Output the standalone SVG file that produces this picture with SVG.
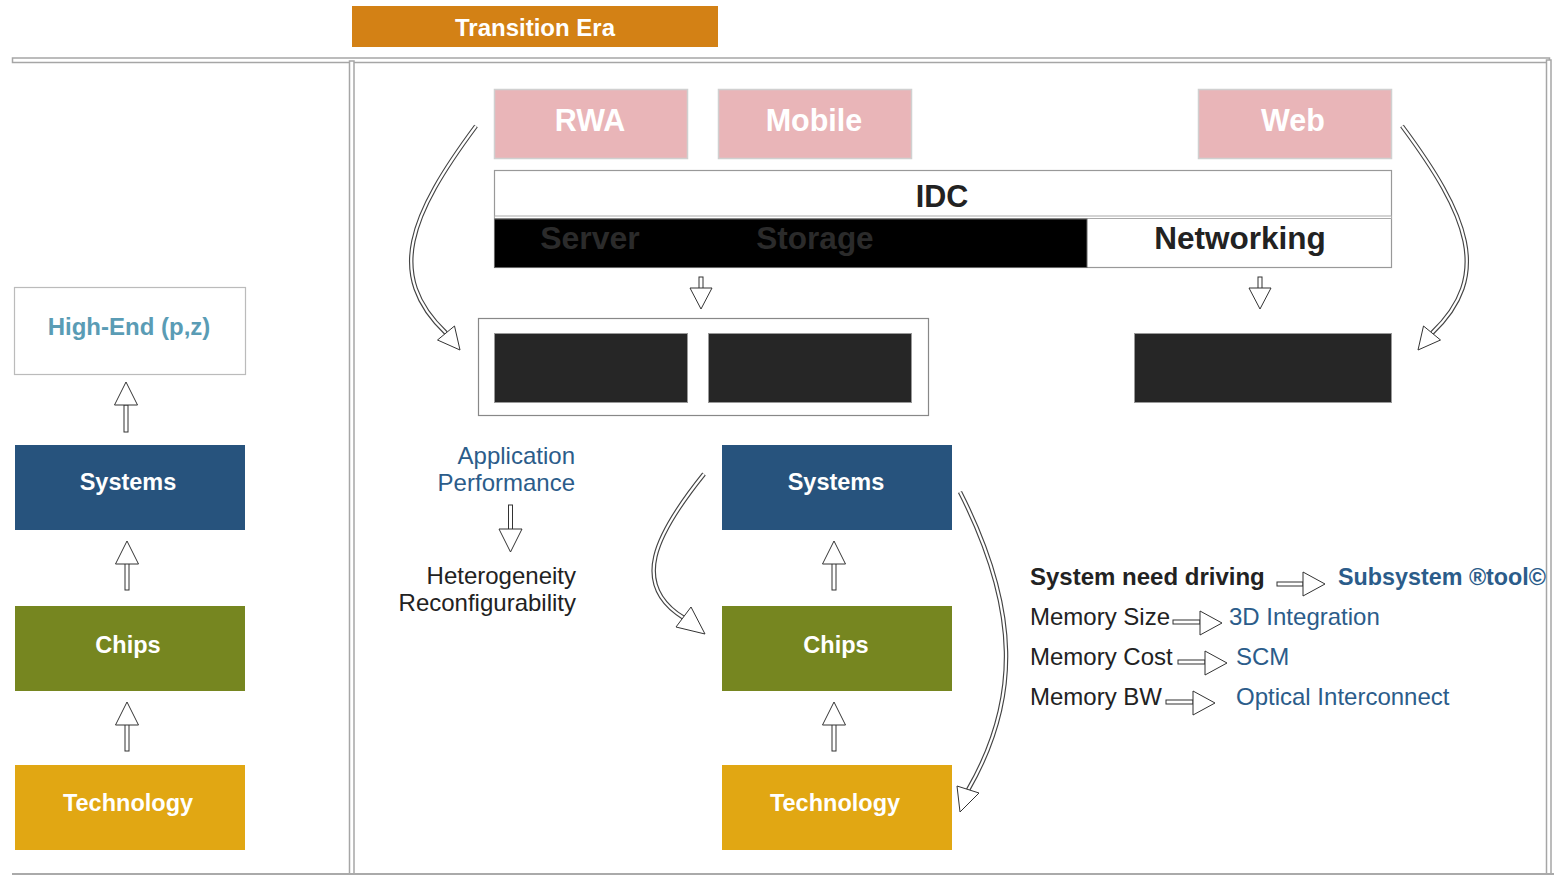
<svg xmlns="http://www.w3.org/2000/svg" width="1554" height="875" viewBox="0 0 1554 875">
<style>
text{font-family:"Liberation Sans",Arial,sans-serif}
.b{font-weight:bold}
.w{fill:#fff}
.mid{text-anchor:middle}
.end{text-anchor:end}
.frame{fill:#fff;stroke:#a6a6a6;stroke-width:1.5}
.pink{fill:#E9B5B8;stroke:#d0d0d0;stroke-width:1.5}
.dark{fill:#262626;stroke:#999;stroke-width:1}
.ar{fill:#fff;stroke:#333;stroke-width:1}
.c1{fill:none;stroke:#444;stroke-width:4.5}
.c2{fill:none;stroke:#fff;stroke-width:2.2}
.blue{fill:#2B5C8A}
.dk{fill:#222}
</style>
<rect width="1554" height="875" fill="#fff"/>
<g id="frame">
<rect class="frame" x="12.5" y="58" width="1537" height="4.5"/>
<rect class="frame" x="349.5" y="61" width="4.5" height="820"/>
<rect class="frame" x="1546.5" y="60" width="4.5" height="820"/>
<line x1="12" y1="874" x2="1554" y2="874" stroke="#aaa" stroke-width="2"/>
</g>
<g id="transition-era">
<rect x="352" y="6" width="366" height="41" fill="#D38115"/>
<text x="535" y="36" class="b w mid" font-size="24">Transition Era</text>
</g>
<g id="rwa"><rect class="pink" x="494.5" y="89.5" width="193" height="69"/><text x="590" y="131" class="b w mid" font-size="30.5">RWA</text></g>
<g id="mobile"><rect class="pink" x="718.5" y="89.5" width="193" height="69"/><text x="814" y="131" class="b w mid" font-size="30.5">Mobile</text></g>
<g id="web"><rect class="pink" x="1198.5" y="89.5" width="193" height="69"/><text x="1293" y="131" class="b w mid" font-size="30.5">Web</text></g>
<g id="idc">
<rect x="494.5" y="170.5" width="897" height="97" fill="#fff" stroke="#999" stroke-width="1.2"/>
<rect x="494.5" y="216" width="897" height="2.5" fill="#fff" stroke="#aaa" stroke-width="1"/>
<rect x="494.5" y="219" width="592.5" height="48.5" fill="#000" stroke="#666" stroke-width="1"/>
<text x="942" y="207" class="b dk mid" font-size="30.5">IDC</text>
<text x="590" y="249" class="b mid" font-size="32" fill="#2b2b2b">Server</text>
<text x="815" y="249" class="b mid" font-size="31.5" fill="#2b2b2b">Storage</text>
<text x="1240" y="249" class="b dk mid" font-size="31.5">Networking</text>
</g>
<g id="container">
<rect x="478.5" y="318.5" width="450" height="97" fill="#fff" stroke="#888" stroke-width="1.2"/>
<rect class="dark" x="494.5" y="333.5" width="193" height="69"/>
<rect class="dark" x="708.5" y="333.5" width="203" height="69"/>
</g>
<g id="net-box"><rect class="dark" x="1134.5" y="333.5" width="257" height="69" fill="#2a2a2a"/></g>
<g id="high-end">
<rect x="14.5" y="287.5" width="231" height="87" fill="#fff" stroke="#bbb" stroke-width="1.2"/>
<text x="129" y="335" class="b mid" font-size="24" fill="#5A9CB5">High-End (p,z)</text>
</g>
<g id="systems-l"><rect x="15" y="445" width="230" height="85" fill="#27537D"/><text x="128" y="490" class="b w mid" font-size="23.5">Systems</text></g>
<g id="chips-l"><rect x="15" y="606" width="230" height="85" fill="#768620"/><text x="128" y="653" class="b w mid" font-size="23.5">Chips</text></g>
<g id="tech-l"><rect x="15" y="765" width="230" height="85" fill="#E1A713"/><text x="128" y="811" class="b w mid" font-size="23.5">Technology</text></g>
<g id="systems-m"><rect x="722" y="445" width="230" height="85" fill="#27537D"/><text x="836" y="490" class="b w mid" font-size="23.5">Systems</text></g>
<g id="chips-m"><rect x="722" y="606" width="230" height="85" fill="#768620"/><text x="836" y="653" class="b w mid" font-size="23.5">Chips</text></g>
<g id="tech-m"><rect x="722" y="765" width="230" height="85" fill="#E1A713"/><text x="835" y="811" class="b w mid" font-size="23.5">Technology</text></g>
<g id="app-perf">
<text x="575" y="464" class="end blue" font-size="24">Application</text>
<text x="575" y="491" class="end blue" font-size="24">Performance</text>
</g>
<g id="hetero">
<text x="576" y="584" class="end dk" font-size="24">Heterogeneity</text>
<text x="576" y="611" class="end dk" font-size="24">Reconfigurability</text>
</g>
<g id="drivers">
<text x="1030" y="585" class="b dk" font-size="24">System need driving</text>
<text x="1338" y="585" class="b blue" font-size="24" textLength="208" lengthAdjust="spacingAndGlyphs">Subsystem ®tool©</text>
<text x="1030" y="625" class="dk" font-size="24">Memory Size</text>
<text x="1229" y="625" class="blue" font-size="24">3D Integration</text>
<text x="1030" y="665" class="dk" font-size="24">Memory Cost</text>
<text x="1236" y="665" class="blue" font-size="24">SCM</text>
<text x="1030" y="705" class="dk" font-size="24">Memory BW</text>
<text x="1236" y="705" class="blue" font-size="24">Optical Interconnect</text>
</g>
<g id="connectors">
<path class="c1" d="M476,126 C410,215 385,275 446,333"/><path class="c2" d="M476,126 C410,215 385,275 446,333"/>
<polygon class="ar" points="460,350 437.5,340 454.5,326"/>
<path class="c1" d="M1402,126 C1468,215 1493,275 1432,333"/><path class="c2" d="M1402,126 C1468,215 1493,275 1432,333"/>
<polygon class="ar" points="1418,350 1440.5,340 1423.5,326"/>
<path class="c1" d="M704,474 C655,535 630,585 684,618"/><path class="c2" d="M704,474 C655,535 630,585 684,618"/>
<polygon class="ar" points="705,634 676,627 691,607"/>
<path class="c1" d="M960,492 C1020,610 1020,700 968,790"/><path class="c2" d="M960,492 C1020,610 1020,700 968,790"/>
<polygon class="ar" points="960,812 957,786 979,793"/>
<rect class="ar" x="699" y="277" width="4" height="12"/><polygon class="ar" points="690,288 712,288 701,309"/>
<rect class="ar" x="1258" y="277" width="4" height="12"/><polygon class="ar" points="1249,288 1271,288 1260,309"/>
<rect class="ar" x="508.5" y="505" width="4" height="25"/><polygon class="ar" points="499,529 522,529 510.5,552"/>
<rect class="ar" x="124" y="405" width="4" height="27"/><polygon class="ar" points="126,382 114.5,405 137.5,405"/>
<rect class="ar" x="125" y="563" width="4" height="27"/><polygon class="ar" points="127,541 115.5,564 138.5,564"/>
<rect class="ar" x="125" y="724" width="4" height="27"/><polygon class="ar" points="127,702 115.5,725 138.5,725"/>
<rect class="ar" x="832" y="563" width="4" height="27"/><polygon class="ar" points="834,541 822.5,564 845.5,564"/>
<rect class="ar" x="832" y="724" width="4" height="27"/><polygon class="ar" points="834,702 822.5,725 845.5,725"/>
<rect class="ar" x="1277" y="582" width="26" height="4"/><polygon class="ar" points="1303,572 1325,584 1303,596"/>
<rect class="ar" x="1173" y="620" width="27" height="4"/><polygon class="ar" points="1200,611 1222,623 1200,635"/>
<rect class="ar" x="1178" y="660" width="27" height="4"/><polygon class="ar" points="1205,651 1227,663 1205,675"/>
<rect class="ar" x="1166" y="700" width="27" height="4"/><polygon class="ar" points="1193,691 1215,703 1193,715"/>
</g>
</svg>
